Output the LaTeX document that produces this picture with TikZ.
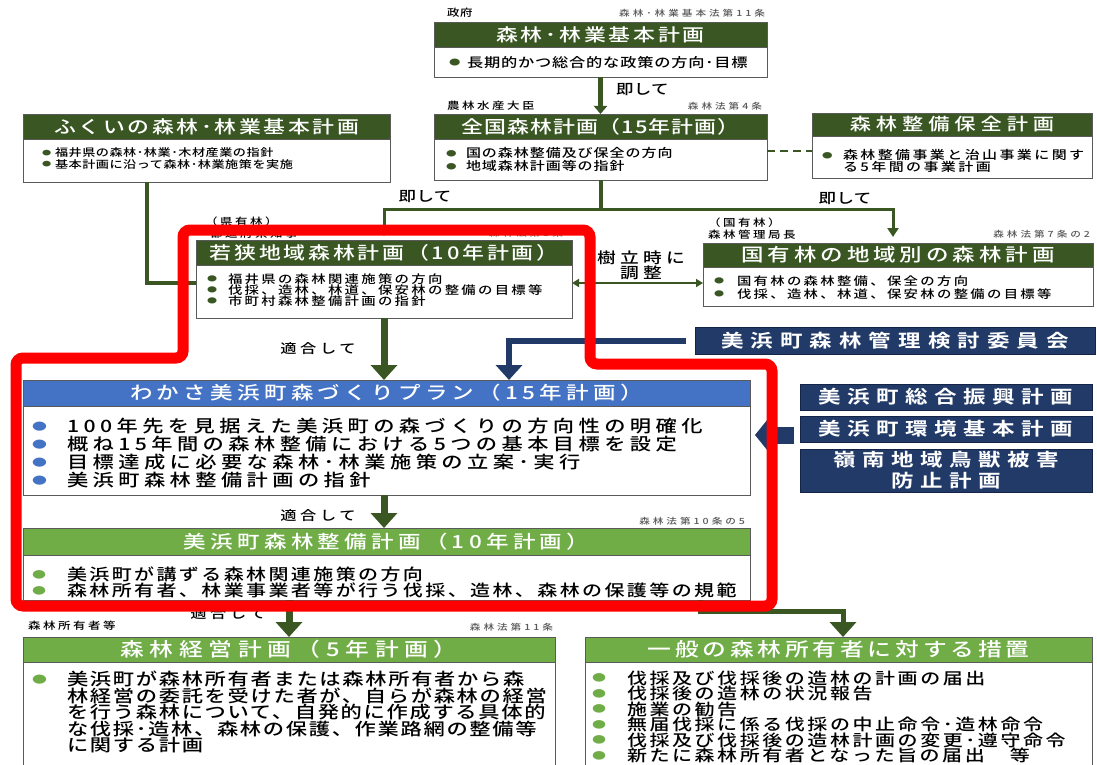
\documentclass[tikz,border=0pt]{standalone}
\usepackage{fontspec}
\usepackage{graphicx}
\setmainfont{Noto Sans CJK JP Medium}[FakeStretch=1.25,BoldFont={Noto Sans CJK JP Bold}]
\usetikzlibrary{arrows.meta}
\definecolor{dg}{RGB}{58,87,35}
\definecolor{lg}{RGB}{112,173,71}
\definecolor{bl}{RGB}{68,114,196}
\definecolor{nv}{RGB}{33,58,104}
\definecolor{nvd}{RGB}{20,36,70}
\definecolor{bd}{RGB}{90,90,90}
\newcommand\jt[3]{\fontsize{#1pt}{#3pt}\selectfont\addfontfeature{LetterSpace=#2}}
\newcommand\bu[2]{\makebox[#2][l]{\textcolor{#1}{\raisebox{0.14em}{\scalebox{0.7}[0.6]{●}}}}}
\begin{document}
\begin{tikzpicture}[x=1pt,y=-1pt,
  box/.style={draw=bd,line width=0.9pt,fill=white,inner sep=0pt,outer sep=0pt,anchor=north west},
  hdr/.style={draw=bd,line width=0.9pt,inner sep=0pt,outer sep=0pt,anchor=north west,text=white},
  nbox/.style={draw=nvd,line width=0.9pt,fill=nv,inner sep=0pt,outer sep=0pt,anchor=north west,text=white,align=center},
  body/.style={inner sep=0pt,outer sep=0pt,anchor=north west,align=left},
  lab/.style={inner sep=0pt,outer sep=0pt},
  law/.style={inner sep=0pt,outer sep=0pt,anchor=east,text=black!65,font={\jt{8.5}{35}{10}}},
  bigarrow/.style={draw=dg,line width=7pt,-{Triangle[width=26pt,length=15pt]}},
  thinarrow/.style={draw=dg,line width=3pt,-{Triangle[width=11pt,length=9pt]}},
  gline/.style={draw=dg,line width=3.5pt},
  navyarrow/.style={draw=nv,line width=6pt,-{Triangle[width=26pt,length=15pt]}},
  small/.style={font={\jt{10}{25}{12}}},
  sok/.style={font={\jt{14}{2}{16}}},
  tek/.style={font={\jt{13}{28}{14}}}
]
\useasboundingbox (0,0) rectangle (1097,765);
\clip (0,0) rectangle (1097,765);
\fill[white] (0,0) rectangle (1097,765);

% ---- top plan
\node[lab,anchor=west,font={\jt{10}{5}{12}}] (gov) at (447,13) {政府};
\node[law] (lawA) at (765,13) {森林･林業基本法第11条};
\node[box,minimum width=333pt,minimum height=55pt] (t1) at (434,22) {};
\node[hdr,fill=dg,minimum width=333pt,minimum height=25pt,font={\jt{17.5}{16}{18}}] (t1h) at (t1.north west) {森林･林業基本計画};
\node[body,font={\jt{13}{6}{14}}] (t1b) at (449,56) {\bu{dg}{18pt}長期的かつ総合的な政策の方向･目標};

% ---- national plan
\node[lab,anchor=west,small] (minister) at (447,106) {農林水産大臣};
\node[law] (lawB) at (762,106) {森林法第4条};
\node[box,minimum width=333pt,minimum height=66pt] (t2) at (434,114) {};
\node[hdr,fill=dg,minimum width=333pt,minimum height=25pt,font={\jt{17.5}{6}{18}}] (t2h) at (t2.north west) {全国森林計画（15年計画）};
\node[body,font={\jt{12}{8}{13}}] (t2b) at (446,147.6) {\bu{dg}{20pt}国の森林整備及び保全の方向\\\bu{dg}{20pt}地域森林計画等の指針};
\draw[draw=dg,line width=5pt,-{Triangle[width=13pt,length=8pt]}] (t1.south) -- (t2.north);
\node[lab,anchor=west,sok] (sokA) at (616,90) {即して};

% ---- fukui plan
\node[box,minimum width=367pt,minimum height=68pt] (t3) at (23,114) {};
\node[hdr,fill=dg,minimum width=367pt,minimum height=25pt,font={\jt{17.5}{15}{18}}] (t3h) at (t3.north west) {ふくいの森林･林業基本計画};
\node[body,font={\jt{10.5}{5}{11.5}}] (t3b) at (42,148) {\bu{dg}{13pt}福井県の森林･林業･木材産業の指針\\\bu{dg}{13pt}基本計画に沿って森林･林業施策を実施};

% ---- forest conservation plan
\node[box,minimum width=280pt,minimum height=65pt] (t4) at (812,113) {};
\node[hdr,fill=dg,minimum width=280pt,minimum height=23pt,font={\jt{17}{29}{18}}] (t4h) at (t4.north west) {森林整備保全計画};
\node[body,font={\jt{12}{20}{11}}] (t4b) at (822,149.6) {\bu{dg}{21pt}森林整備事業と治山事業に関す\\\hspace*{21pt}る5年間の事業計画};
\coordinate (dA) at ([yshift=-4pt]t2.east);
\draw[dg,line width=2.5pt,dash pattern=on 8pt off 5pt] (dA) -- (dA -| t4.west);

% ---- wakasa regional plan
\node[lab,anchor=west,small] (kenyu) at (205,222) {（県有林）};
\node[lab,anchor=west,small] (chiji) at (210,234) {都道府県知事};
\node[law] (lawC) at (563,233) {森林法第5条};
\node[box,minimum width=376pt,minimum height=78pt] (wak) at (196,240) {};
\node[hdr,fill=dg,minimum width=376pt,minimum height=25pt,font={\jt{17.5}{16}{18}}] (wakh) at (wak.north west) {若狭地域森林計画（10年計画）};
\node[body,font={\jt{11.5}{20}{11}}] (wakb) at (207,273.8) {\bu{dg}{21pt}福井県の森林関連施策の方向\\\bu{dg}{21pt}伐採、造林、林道、保安林の整備の目標等\\\bu{dg}{21pt}市町村森林整備計画の指針};

% ---- national forest plan
\node[lab,anchor=west,small] (kokuyu) at (708,223) {（国有林）};
\node[lab,anchor=west,small] (kyoku) at (708,235) {森林管理局長};
\node[law] (lawD) at (1090,234) {森林法第7条の2};
\node[box,minimum width=390pt,minimum height=63pt] (kok) at (703,243) {};
\node[hdr,fill=dg,minimum width=390pt,minimum height=24pt,font={\jt{18}{22}{18}}] (kokh) at (kok.north west) {国有林の地域別の森林計画};
\node[body,font={\jt{11.5}{20}{12.5}}] (kokb) at (714,275.8) {\bu{dg}{23pt}国有林の森林整備、保全の方向\\\bu{dg}{23pt}伐採、造林、林道、保安林の整備の目標等};

% ---- connectors, upper part
\coordinate (jn) at (t2.south |- 0,209);
\coordinate (jr) at (893,209);
\draw[gline,line width=4pt] (t2.south) -- (jn);
\draw[thinarrow,shorten >=4pt] (jn) -| (wak.north);
\draw[thinarrow,shorten >=6pt] (jn) -| (jr |- kok.north);
\node[lab,sok] (sokB) at (425,197) {即して};
\node[lab,sok] (sokC) at (845,199) {即して};
\coordinate (daL) at ([yshift=-4pt]wak.east);
\draw[dg,line width=2pt,{Triangle[width=8pt,length=7pt]}-{Triangle[width=8pt,length=7pt]}] (daL) -- (daL -| kok.west);
\node[lab,font={\jt{15}{28}{16}}] (juritsu) at (641,258) {樹立時に};
\node[lab,font={\jt{15}{28}{16}}] (chosei) at (641,273) {調整};
\coordinate (fkA) at ([xshift=-59.5pt]t3.south);
\draw[gline,line width=4pt] (fkA) |- (wak.west |- daL);

% ---- wakasa mihama plan
\node[box,minimum width=727pt,minimum height=115pt] (waka) at (23,380) {};
\node[hdr,fill=bl,minimum width=727pt,minimum height=26pt,font={\jt{18}{24}{18}}] (wakah) at (waka.north west) {わかさ美浜町森づくりプラン（15年計画）};
\node[body,font={\jt{17}{26}{18}}] (wakab) at (32,418.3) {\bu{bl}{35pt}100年先を見据えた美浜町の森づくりの方向性の明確化\\\bu{bl}{35pt}概ね15年間の森林整備における5つの基本目標を設定\\\bu{bl}{35pt}目標達成に必要な森林･林業施策の立案･実行\\\bu{bl}{35pt}美浜町森林整備計画の指針};
\draw[bigarrow] (wak.south) -- (wak.south |- waka.north);
\node[lab,tek] (tekA) at (318,349) {適合して};

% ---- navy boxes
\node[nbox,minimum width=400pt,minimum height=27pt,font={\bfseries\jt{18}{39}{18}}] (n1) at (695,327) {美浜町森林管理検討委員会};
\node[nbox,minimum width=292pt,minimum height=26pt,font={\bfseries\jt{18}{36}{18}}] (n2) at (800,384) {美浜町総合振興計画};
\node[nbox,minimum width=292pt,minimum height=26pt,font={\bfseries\jt{18}{36}{18}}] (n3) at (800,416) {美浜町環境基本計画};
\node[nbox,minimum width=292pt,minimum height=43pt,font={\bfseries\jt{18}{36}{21}}] (n4) at (800,449) {嶺南地域鳥獣被害\\防止計画};
\coordinate (nvc) at (n1.west -| 509,0);
\draw[navyarrow,shorten <=9pt] (n1.west) -- (nvc) -- (nvc |- waka.north);
\coordinate (chA) at (794,435);
\coordinate (chB) at (755,435);
\draw[nv,line width=17pt,-{Triangle[width=34pt,length=14pt]}] (chA) -- (chB);

% ---- mihama forest maintenance plan
\node[law] (lawE) at (745,521) {森林法第10条の5};
\node[box,minimum width=727pt,minimum height=72pt] (seibi) at (23,528) {};
\node[hdr,fill=lg,minimum width=727pt,minimum height=27pt,font={\jt{18}{24}{18}}] (seibih) at (seibi.north west) {美浜町森林整備計画（10年計画）};
\node[body,font={\jt{16}{15}{16.5}}] (seibib) at (32,566.8) {\bu{lg}{35pt}美浜町が講ずる森林関連施策の方向\\\bu{lg}{35pt}森林所有者、林業事業者等が行う伐採、造林、森林の保護等の規範};
\draw[bigarrow] (wak.south |- waka.south) -- (wak.south |- seibi.north);
\node[lab,tek] (tekB) at (318,516) {適合して};

% ---- bottom boxes
\node[lab,anchor=west,small] (owner) at (28,626) {森林所有者等};
\node[law] (lawF) at (553,627) {森林法第11条};
\node[box,minimum width=532pt,minimum height=140pt] (keiei) at (23,637) {};
\node[hdr,fill=lg,minimum width=532pt,minimum height=25pt,font={\jt{19}{30}{19}}] (keieih) at (keiei.north west) {森林経営計画（5年計画）};
\node[body,font={\jt{17}{10}{16.5}}] (keieib) at (32,671) {\bu{lg}{35pt}美浜町が森林所有者または森林所有者から森\\\hspace*{35pt}林経営の委託を受けた者が、自らが森林の経営\\\hspace*{35pt}を行う森林について、自発的に作成する具体的\\\hspace*{35pt}な伐採･造林、森林の保護、作業路網の整備等\\\hspace*{35pt}に関する計画};
\node[box,minimum width=507pt,minimum height=140pt] (ippan) at (585,637) {};
\node[hdr,fill=lg,minimum width=507pt,minimum height=25pt,font={\jt{19}{20}{19}}] (ippanh) at (ippan.north west) {一般の森林所有者に対する措置};
\node[body,font={\jt{16}{16}{15.5}}] (ippanb) at (592,670.5) {\bu{lg}{35pt}伐採及び伐採後の造林の計画の届出\\\bu{lg}{35pt}伐採後の造林の状況報告\\\bu{lg}{35pt}施業の勧告\\\bu{lg}{35pt}無届伐採に係る伐採の中止命令･造林命令\\\bu{lg}{35pt}伐採及び伐採後の造林計画の変更･遵守命令\\\bu{lg}{35pt}新たに森林所有者となった旨の届出　等};
\draw[bigarrow] (keiei.north |- seibi.south) -- (keiei.north);
\node[lab,tek] (tekC) at (228,614) {適合して};
\coordinate (brk) at (843,611);
\draw[draw=dg,line width=5pt,-{Triangle[width=26pt,length=15pt]}] ([xshift=-50pt]seibi.south east) |- (brk) -- (brk |- ippan.north);

% ---- red highlight frame
\draw[red,line width=11pt,rounded corners=7pt] (183,230) -- (590,230) -- (590,364) -- (772,364) -- (772,606) -- (16,606) -- (16,358) -- (183,358) -- cycle;
\end{tikzpicture}
\end{document}
